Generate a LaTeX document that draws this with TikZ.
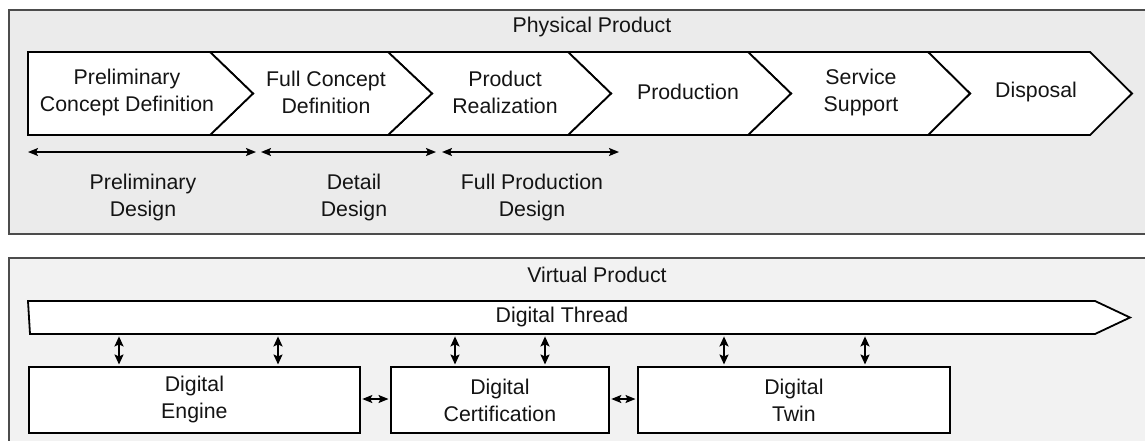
\documentclass[tikz,border=0pt]{standalone}
\usepackage{fontspec}
\setmainfont{Liberation Sans}
\usetikzlibrary{arrows.meta,calc}
\newcommand{\lbfont}{\fontsize{21.3}{27}\selectfont}
\begin{document}
\begin{tikzpicture}[x=1pt,y=-1pt,
  panelA/.style={draw=black!70,line width=1.6pt,fill=black!8},
  panelB/.style={draw=black!70,line width=1.6pt,fill=black!5},
  shapeline/.style={draw=black,line width=1.8pt,fill=white,line join=miter},
  lbl/.style={font=\lbfont,align=center,inner sep=0pt,text=black!92},
  dbl/.style={line width=1.6pt,{Stealth[length=10pt,width=8pt,inset=2pt]}-{Stealth[length=10pt,width=8pt,inset=2pt]}},
  dblv/.style={line width=1.8pt,{Stealth[length=10pt,width=9pt,inset=2pt]}-{Stealth[length=10pt,width=9pt,inset=2pt]}},
]
\useasboundingbox (0,0) rectangle (1145,440);
% panels
\path[panelA] (9,10) rectangle (1160,234);
\path[panelB] (9,258) rectangle (1160,460);
\node[lbl] (phys) at (592,27) {Physical Product};
\node[lbl] (virt) at (597,275) {Virtual Product};
% chevrons
\path[shapeline] (928,52) -- (1090,52) -- (1132,93.5) -- (1090,135) -- (928,135) -- (970,93.5) -- cycle;
\path[shapeline] (748,52) -- (928,52) -- (970,93.5) -- (928,135) -- (748,135) -- (791,93.5) -- cycle;
\path[shapeline] (568,52) -- (748,52) -- (791,93.5) -- (748,135) -- (568,135) -- (611,93.5) -- cycle;
\path[shapeline] (388,52) -- (568,52) -- (611,93.5) -- (568,135) -- (388,135) -- (432,93.5) -- cycle;
\path[shapeline] (210,52) -- (388,52) -- (432,93.5) -- (388,135) -- (210,135) -- (253,93.5) -- cycle;
\path[shapeline] (28,52) -- (210,52) -- (253,93.5) -- (210,135) -- (28,135) -- cycle;
\node[lbl] (c1) at (127,92.5) {Preliminary\\Concept Definition};
\node[lbl] (c2) at (326,92.5) {Full Concept\\Definition};
\node[lbl] (c3) at (505,92.5) {Product\\Realization};
\node[lbl] (c4) at (688,92) {Production};
\node[lbl] (c5) at (861,92.5) {Service\\Support};
\node[lbl] (c6) at (1036,92) {Disposal};
% phase arrows
\coordinate (a1l) at (28,152); \coordinate (a1r) at (256,152);
\coordinate (a2l) at (261,152); \coordinate (a2r) at (436,152);
\coordinate (a3l) at (442,152); \coordinate (a3r) at (619,152);
\draw[dbl] (a1l) -- (a1r);
\draw[dbl] (a2l) -- (a2r);
\draw[dbl] (a3l) -- (a3r);
\node[lbl] (d1) at (143,197) {Preliminary\\Design};
\node[lbl] (d2) at (354,197) {Detail\\Design};
\node[lbl] (d3) at (532,197) {Full Production\\Design};
% digital thread
\path[shapeline] (28,301) -- (1095,301) -- (1130,317.5) -- (1095,334) -- (30,334) -- cycle;
\node[lbl,minimum width=1067pt,minimum height=33pt,anchor=north west] (thr) at (28,301) {};
\node[lbl] (thrt) at (562,317) {Digital Thread};
% boxes
\node[shapeline,draw,lbl,minimum width=331pt,minimum height=66pt,anchor=north west] (eng) at (28,366) {Digital\\Engine};
\node[shapeline,draw,lbl,minimum width=218pt,minimum height=66pt,anchor=north west] (cert) at (390,366) {Digital\\Certification};
\node[shapeline,draw,lbl,minimum width=312pt,minimum height=66pt,anchor=north west] (twin) at (637,366) {Digital\\Twin};
% vertical arrows
\foreach \xx/\bx in {119/eng,278/eng,455/cert,545/cert,724/twin,865/twin}{
  \draw[dblv] ([yshift=-2pt]thr.south -| \xx,0) -- ([yshift=1.5pt]\bx.north -| \xx,0);
}
% horizontal arrows
\draw[dbl] ([xshift=1.5pt]eng.east |- 0,399) -- ([xshift=-1.5pt]cert.west |- 0,399);
\draw[dbl] ([xshift=1.5pt]cert.east |- 0,399) -- ([xshift=-1.5pt]twin.west |- 0,399);
\end{tikzpicture}
\end{document}
